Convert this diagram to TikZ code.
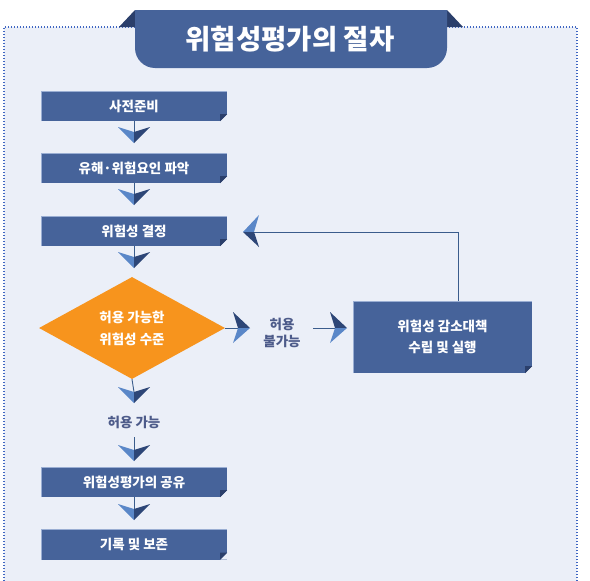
\documentclass[tikz,border=0pt]{standalone}
\usepackage{fontspec}
\usetikzlibrary{shapes.geometric,calc}
\newfontfamily\kr{Noto Sans CJK KR}
\definecolor{bgc}{HTML}{EBEFF8}
\definecolor{boxc}{HTML}{46639A}
\definecolor{boxedge}{HTML}{9AAED3}
\definecolor{folddark}{HTML}{2B3F6B}
\definecolor{chevlight}{HTML}{5A87C8}
\definecolor{chevdark}{HTML}{2D4677}
\definecolor{linec}{HTML}{3A5C8C}
\definecolor{labelc}{HTML}{4D5B8A}
\definecolor{orangec}{HTML}{F7941D}
\definecolor{dotc}{HTML}{3F66C2}
\newcommand\foldcorner[1]{%
  \fill[bgc] ([xshift=-7pt]#1.south east) -- (#1.south east) -- ([yshift=7pt]#1.south east) -- cycle;
  \fill[folddark] ([xshift=-7pt]#1.south east) -- ([xshift=-7pt,yshift=7pt]#1.south east) -- ([yshift=7pt]#1.south east) -- cycle;
  \draw[boxedge,line width=0.6pt] (#1.south west) -- (#1.north west) -- (#1.north east);}
\newcommand\chevD[1]{%
  \begin{scope}[shift={(#1)}]
    \fill[chevlight] (-16,-16) -- (0,-11) -- (0,0) -- cycle;
    \fill[chevdark] (16,-16) -- (0,-11) -- (0,0) -- cycle;
  \end{scope}}
\newcommand\chevR[1]{%
  \begin{scope}[shift={(#1)}]
    \fill[chevdark] (-17,-16) -- (-12,0) -- (0,0) -- cycle;
    \fill[chevlight] (-17,15) -- (-12,0) -- (0,0) -- cycle;
  \end{scope}}
\newcommand\chevL[1]{%
  \begin{scope}[shift={(#1)}]
    \fill[chevlight] (16,-17) -- (11,0) -- (0,0) -- cycle;
    \fill[chevdark] (16,15) -- (11,0) -- (0,0) -- cycle;
  \end{scope}}
\tikzset{
  stepbox/.style={rectangle, fill=boxc, minimum width=186pt, minimum height=30pt, inner sep=0pt,
    text=white, font=\kr\bfseries\fontsize{13.5}{15}\selectfont},
  bigbox/.style={stepbox, minimum width=179pt, minimum height=72pt, align=center,
    font=\kr\bfseries\fontsize{13.5}{21}\selectfont},
  decision/.style={diamond, fill=orangec, minimum width=186pt, minimum height=102pt, inner sep=0pt,
    text=white, align=center, font=\kr\bfseries\fontsize{13.5}{22}\selectfont},
  lbl/.style={text=labelc, align=center, inner sep=1pt, font=\kr\bfseries\fontsize{13.5}{17}\selectfont},
  conn/.style={draw=linec, line width=0.9pt},
}
\begin{document}
\begin{tikzpicture}[x=1pt,y=-1pt]
\useasboundingbox (0,0) rectangle (590,581);
% background
\fill[bgc] (4,27) rectangle (577,581);
\draw[dotc, line width=1.1pt, dash pattern=on 1.1pt off 1.9pt] (4,581) -- (4,27) -- (577,27) -- (577,581);
% title banner
\fill[folddark] (119,27) -- (135,10) -- (135,27) -- cycle;
\fill[folddark] (447,10) -- (463,27) -- (447,27) -- cycle;
\fill[boxc] (135,10) -- (447,10) [rounded corners=20pt] -- (447,68) -- (135,68) [sharp corners] -- cycle;
\node[text=white, font=\kr\bfseries\fontsize{27.5}{30}\selectfont, inner sep=0pt] (title) at (290,39) {위험성평가의 절차};
% coordinates of chevron tips and notches
\coordinate (t1) at (134,143); \coordinate (n1) at (134,132);
\coordinate (t2) at (134,205); \coordinate (n2) at (134,194);
\coordinate (t3) at (134,268); \coordinate (n3) at (134,257);
\coordinate (t4) at (134,403); \coordinate (n4) at (134,392);
\coordinate (t5) at (134,461); \coordinate (n5) at (134,450);
\coordinate (t6) at (134,520); \coordinate (n6) at (134,509);
\coordinate (tr1) at (250,328); \coordinate (nr1) at (238,328);
\coordinate (tr2) at (347,328); \coordinate (nr2) at (335,328);
\coordinate (tl1) at (243,232); \coordinate (nl1) at (254,232);
\coordinate (s5) at (134,437);
\coordinate (sr2) at (313,328);
% nodes
\node[stepbox] (b1) at (134,106) {사전준비};
\node[stepbox] (b2) at (134,168) {유해·위험요인 파악};
\node[stepbox] (b3) at (134,231) {위험성 결정};
\node[decision] (d) at (132,328) {허용 가능한\\위험성 수준};
\node[lbl] (np) at (282,333) {허용\\불가능};
\node[bigbox] (rb) at (442.5,337) {위험성 감소대책\\수립 및 실행};
\node[lbl] (ok) at (134,422) {허용 가능};
\node[stepbox] (b4) at (134,482) {위험성평가의 공유};
\node[stepbox] (b5) at (134,544.5) {기록 및 보존};
\foldcorner{b1}\foldcorner{b2}\foldcorner{b3}\foldcorner{b4}\foldcorner{b5}\foldcorner{rb}
% connectors
\draw[conn] (b1.south) -- (n1);
\draw[conn] (b2.south) -- (n2);
\draw[conn] (b3.south) -- (n3);
\draw[conn] (d.south) -- (n4);
\draw[conn] (s5) -- (n5);
\draw[conn] (b4.south) -- (n6);
\draw[conn] (d.east) -- (nr1);
\draw[conn] (sr2) -- (nr2);
\draw[conn] ([xshift=15.5pt]rb.north) |- (nl1);
% chevrons
\chevD{t1}\chevD{t2}\chevD{t3}\chevD{t4}\chevD{t5}\chevD{t6}
\chevR{tr1}\chevR{tr2}
\chevL{tl1}
\end{tikzpicture}
\end{document}
